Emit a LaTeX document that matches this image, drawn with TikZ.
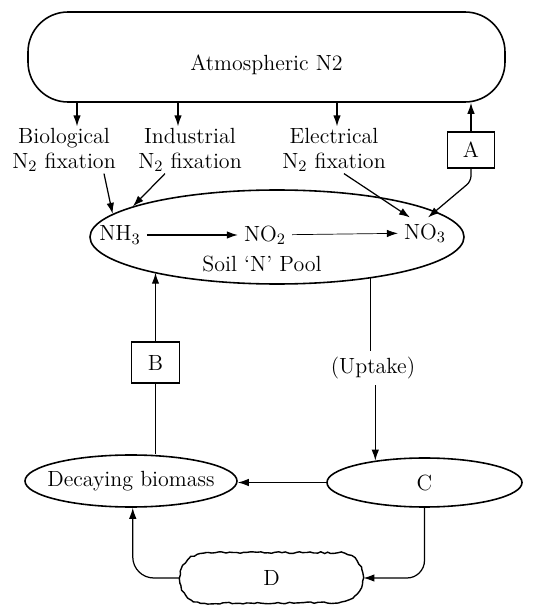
\documentclass[tikz,border=0pt]{standalone}
\usepackage{amsfonts}
\usepackage{amssymb}
\usetikzlibrary{arrows.meta,shapes.geometric,decorations.pathmorphing}
\begin{document}
\begin{tikzpicture}[font=\fontsize{12.5}{14}\selectfont,
arr/.style={-{Latex[length=2.2mm,width=1.5mm]},line width=0.7pt},
oval/.style={ellipse,draw,line width=0.9pt,inner sep=0pt},
lbl/.style={align=center,inner sep=1pt},
letterbox/.style={draw,line width=0.8pt,minimum width=0.95cm,minimum height=0.72cm}]
\useasboundingbox (0,0) rectangle (10.68,12.14);
\node[draw,line width=0.9pt,rounded corners=0.8cm,minimum width=9.54cm,minimum height=1.8cm,label={[yshift=-0.15cm]center:Atmospheric N2}](atm) at (5.33,11.0){};
\node[lbl](bio) at (1.28,9.14){Biological\\N$_2$ fixation};
\node[lbl](ind) at (3.8,9.14){Industrial\\N$_2$ fixation};
\node[lbl](ele) at (6.68,9.14){Electrical\\N$_2$ fixation};
\node[letterbox](A) at (9.42,9.14){A};
\node[oval,minimum width=7.48cm,minimum height=1.88cm](pool) at (5.54,7.40){};
\node(nh3) at (2.4,7.44){NH$_3$};
\node(no2) at (5.3,7.44){NO$_2$};
\node(no3) at (8.5,7.48){NO$_3$};
\node(soil) at (5.24,6.86){Soil `N' Pool};
\node[letterbox,minimum height=0.82cm](B) at (3.11,4.89){B};
\node(uptake) at (7.46,4.78){(Uptake)};
\node[oval,minimum width=4.24cm,minimum height=1.04cm,label=center:Decaying biomass](decay) at (2.62,2.52){};
\node[oval,minimum width=3.9cm,minimum height=0.98cm](C) at (8.49,2.49){C};
\node[minimum width=3.66cm,minimum height=1.0cm](D) at (5.43,0.58){D};
\pgfmathsetseed{7}
\draw[line width=0.8pt,decorate,decoration={random steps,segment length=2pt,amplitude=0.5pt}]([xshift=0.5cm]D.north west)--([xshift=-0.5cm]D.north east) arc[start angle=90,end angle=-90,radius=0.5cm]--([xshift=0.5cm]D.south west) arc[start angle=270,end angle=90,radius=0.5cm]--cycle;
\draw[arr](1.54,0 |- atm.south)--(1.54,0 |- bio.north);
\draw[arr](3.56,0 |- atm.south)--(3.56,0 |- ind.north);
\draw[arr](6.74,0 |- atm.south)--(6.74,0 |- ele.north);
\draw[arr](A.north)--(A.north |- atm.south);
\draw[arr]([xshift=0.8cm]bio.south)--(pool.172);
\draw[arr]([xshift=-0.5cm]ind.south)--(pool.168);
\draw[arr]([xshift=0.2cm]ele.south)--([xshift=-0.3cm]no3.north);
\draw[arr,rounded corners=3pt](A.south)--++(0,-0.25)--([xshift=0.06cm]no3.north);
\draw[arr](nh3)--(no2);
\draw[arr,line width=0.4pt](no2)--(no3);
\draw[line width=0.7pt](pool.-24)--(pool.-24 |- uptake.north);
\draw[arr](C.156 |- uptake.south)--(C.156);
\draw[arr](B.north)--(B.north |- pool.196);
\draw[line width=0.7pt](B.south)--(B.south |- decay.north);
\draw[arr](C.west)--(C.west -| decay.east);
\draw[arr,rounded corners=10pt](C.south)|-(D.east);
\draw[arr,rounded corners=12pt](D.west)-|([xshift=1pt]decay.south);
\end{tikzpicture}
\end{document}
